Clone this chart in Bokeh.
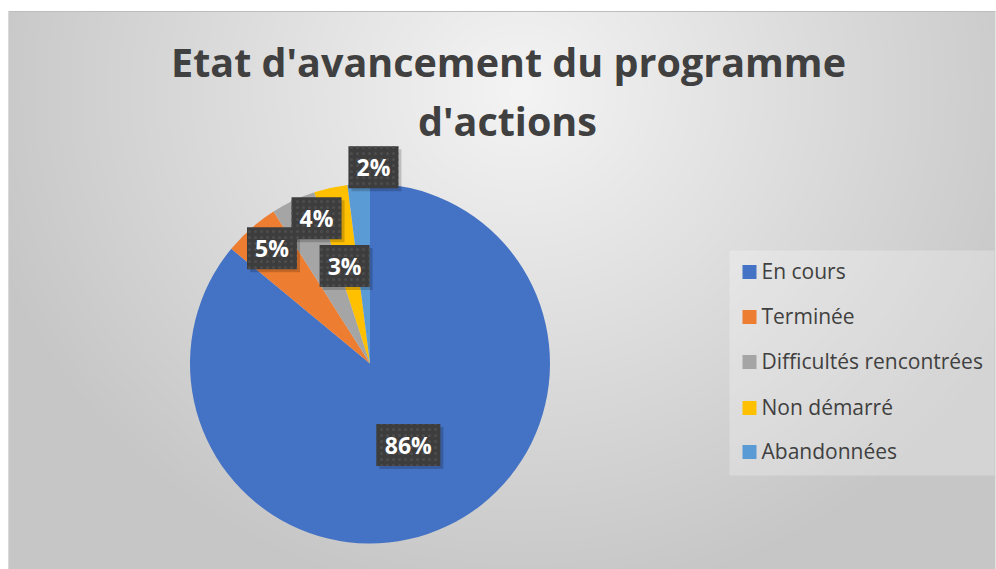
import numpy as np
from bokeh.plotting import figure
from bokeh.models import Range1d, ColumnDataSource
from bokeh.core.properties import value
from bokeh.embed import file_html
from bokeh.resources import INLINE

# ---- data ----
categories = ["En cours", "Terminée", "Difficultés rencontrées", "Non démarré", "Abandonnées"]
percents = [86, 5, 4, 3, 2]
colors = ["#4472C4", "#ED7D31", "#A5A5A5", "#FFC000", "#5B9BD5"]
title_lines = ["Etat d'avancement du programme", "d'actions"]

# ---- layout params ----
W, H = 996, 569
FONT = "Open Sans"
def X(ix):
    return ix
def Y(iy):
    return H - iy
MID = 0.37  # baseline -> visual middle offset (em)

cx, cy, R = X(369.5), Y(363), 180
label_r = [0.50, 0.84, 0.86, 0.56, 1.09]
label_dtheta = [0, 1, 5, -2, 4.6]

p = figure(width=W, height=H, x_range=Range1d(0, W), y_range=Range1d(0, H),
           output_backend="svg", toolbar_location=None, min_border=0,
           x_axis_type=None, y_axis_type=None)
p.grid.visible = False
p.outline_line_color = None
p.background_fill_color = "white"
p.border_fill_color = "white"

# ---- radial gradient background (chart area x 8..995, y 11..569) ----
L, Rt, T, B = 8, 995, 11, 569
s = 2
gw, gh = (Rt - L) // s, (B - T) // s
j = np.arange(gw)
i = np.arange(gh)
ix = L + (j + 0.5) * (Rt - L) / gw
iy = B - (i + 0.5) * (B - T) / gh
IX, IY = np.meshgrid(ix, iy)
d = np.sqrt(((IX - 520) / 560.0) ** 2 + ((IY - 90) / 520.0) ** 2)
c = (244 - (244 - 198) * np.clip(d, 0, 1)).astype(np.uint8)
img = np.empty((gh, gw), dtype=np.uint32)
view = img.view(dtype=np.uint8).reshape((gh, gw, 4))
view[:, :, 0] = c
view[:, :, 1] = c
view[:, :, 2] = c
view[:, :, 3] = 255
p.image_rgba(image=[img], x=X(L), y=Y(B), dw=Rt - L, dh=B - T)
p.line(x=[X(L), X(Rt)], y=[Y(T), Y(T)], line_color="#bdbdbd", line_width=1)
p.line(x=[X(L), X(L)], y=[Y(T), Y(B)], line_color="#d9d9d9", line_width=1)

# ---- pie ----
vals = np.array(percents, dtype=float)
frac = vals / vals.sum()
cum = np.concatenate([[0], np.cumsum(frac)])
start = np.pi / 2 - 2 * np.pi * cum[1:]
end = np.pi / 2 - 2 * np.pi * cum[:-1]
src = ColumnDataSource(dict(start=start, end=end, color=colors))
p.wedge(x=cx, y=cy, radius=R, start_angle="start", end_angle="end",
        fill_color="color", line_color=None, source=src)

# ---- data labels ----
mid = (cum[:-1] + cum[1:]) / 2 * 360 + np.array(label_dtheta)
th = np.radians(mid)
lx = cx + np.array(label_r) * R * np.sin(th)
ly = cy + np.array(label_r) * R * np.cos(th)
texts = [f"{v}%" for v in percents]
bw = [64 if len(t) > 2 else 50 for t in texts]
lab = ColumnDataSource(dict(x=lx, y=ly, sx=lx + 3, sy=ly - 3, w=bw, text=texts))
p.rect(x="sx", y="sy", width="w", height=42, source=lab,
       fill_color="black", fill_alpha=0.18, line_color=None)
p.rect(x="x", y="y", width="w", height=42, source=lab,
       fill_color="#3d3d3d", line_color=None,
       hatch_pattern="dot", hatch_color="#4d4d4d", hatch_scale=6, hatch_weight=1.0)
p.text(x="x", y="y", text="text", source=lab, text_color="white",
       text_font=value(FONT), text_font_style="bold", text_font_size="23px",
       text_align="center", text_baseline="middle")

# ---- title ----
TS = 39.5
p.text(x=[X(508), X(507)], y=[Y(76 - MID * TS), Y(135 - MID * TS)], text=title_lines,
       text_color="#404040", text_font=value(FONT), text_font_style="bold",
       text_font_size=f"{TS}px", text_align="center", text_baseline="middle")

# ---- legend ----
LS = 21
p.quad(left=X(729), right=X(994), top=Y(250), bottom=Y(475),
       fill_color="white", fill_alpha=0.25, line_color=None)
base = np.array([278, 323, 368, 414, 458], dtype=float)
leg = ColumnDataSource(dict(x=[X(749)] * 5, y=[Y(b - 6.5) for b in base],
                            tx=[X(761)] * 5, ty=[Y(b - MID * LS) for b in base],
                            color=colors, text=categories))
p.rect(x="x", y="y", width=14, height=14, fill_color="color", line_color=None, source=leg)
p.text(x="tx", y="ty", text="text", source=leg, text_color="#404040",
       text_font=value(FONT), text_font_size=f"{LS}px",
       text_align="left", text_baseline="middle")

open("out.html", "w").write(file_html(p, INLINE))
